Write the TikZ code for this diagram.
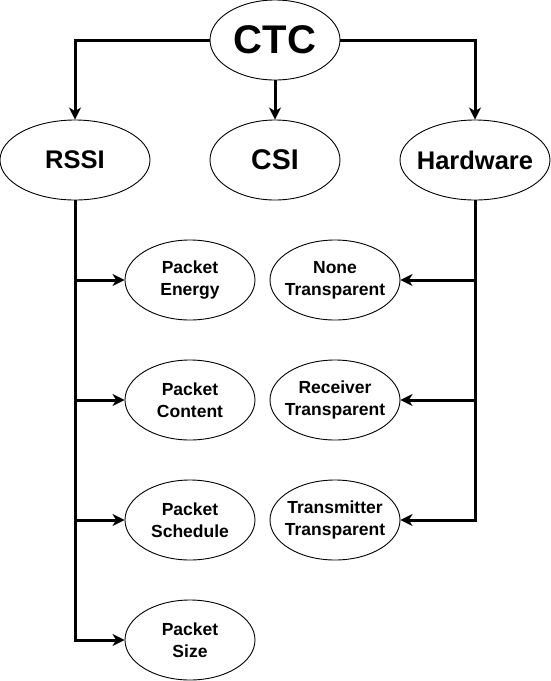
\documentclass[tikz,border=0pt]{standalone}
\usepackage{fontspec}
\setmainfont{Liberation Sans}
\usetikzlibrary{arrows.meta,shapes.geometric}
\tikzset{
  oval/.style={ellipse, draw=black, line width=0.9pt, fill=white, inner sep=0pt},
  ovaltxt/.style={inner sep=0pt, align=center},
  big/.style={oval, minimum width=150pt, minimum height=80pt},
  small/.style={oval, minimum width=130pt, minimum height=80pt},
  bigtxt/.style={ovaltxt, font=\fontsize{25.5}{30}\selectfont\bfseries},
  smalltxt/.style={ovaltxt, font=\fontsize{17.5}{22}\selectfont\bfseries},
  conn/.style={line width=3pt, line join=miter},
  arr/.style={conn, -{Stealth[length=12pt, width=12pt, inset=3.5pt]}}
}
\begin{document}
\begin{tikzpicture}[x=1pt, y=-1pt]
\useasboundingbox (0,0) rectangle (551,681);
\node[small, label={[ovaltxt, font=\fontsize{40}{46}\selectfont\bfseries]center:CTC}] (ctc) at (275,40) {};
\node[big, label={[bigtxt]center:RSSI}] (rssi) at (75,160) {};
\node[small, label={[ovaltxt, font=\fontsize{28.5}{34}\selectfont\bfseries]center:CSI}] (csi) at (275,160) {};
\node[big, label={[bigtxt]center:Hardware}] (hw) at (475,160) {};

\node[small, label={[smalltxt]center:Packet\\Energy}] (pe) at (190,280) {};
\node[small, label={[smalltxt]center:Packet\\Content}] (pc) at (190,400) {};
\node[small, label={[smalltxt]center:Packet\\Schedule}] (ps) at (190,520) {};
\node[small, label={[smalltxt]center:Packet\\Size}] (pz) at (190,640) {};

\node[small, label={[smalltxt]center:None\\Transparent}] (nt) at (335,280) {};
\node[small, label={[smalltxt]center:Receiver\\Transparent}] (rt) at (335,400) {};
\node[small, label={[smalltxt]center:Transmitter\\Transparent}] (tt) at (335,520) {};

\draw[arr] (ctc.west) -| (rssi.north);
\draw[arr] (ctc.south) -- (csi.north);
\draw[arr] (ctc.east) -| (hw.north);

\draw[arr] (rssi.south) |- (pz.west);
\draw[arr] (rssi.south |- pe.west) -- (pe.west);
\draw[arr] (rssi.south |- pc.west) -- (pc.west);
\draw[arr] (rssi.south |- ps.west) -- (ps.west);

\draw[arr] (hw.south) |- (tt.east);
\draw[arr] (hw.south |- nt.east) -- (nt.east);
\draw[arr] (hw.south |- rt.east) -- (rt.east);
\end{tikzpicture}
\end{document}
